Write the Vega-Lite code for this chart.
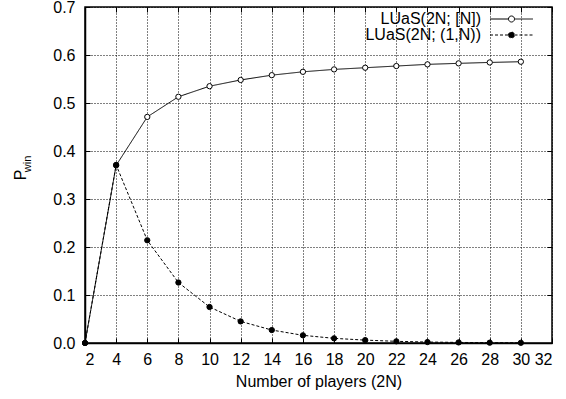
{
  "$schema": "https://vega.github.io/schema/vega-lite/v6.json",
  "width": 467,
  "height": 336,
  "autosize": {"type": "none"},
  "padding": {"left": 85, "top": 7, "right": 14, "bottom": 56},
  "background": "white",
  "config": {
    "font": "Liberation Sans",
    "view": {"stroke": "black", "strokeWidth": 1.5},
    "legend": {"padding": 0},
    "axis": {
      "labelFont": "Liberation Sans",
      "titleFont": "Liberation Sans",
      "labelFontSize": 16,
      "titleFontSize": 16,
      "titleFontWeight": "normal",
      "labelColor": "black",
      "titleColor": "black",
      "domainColor": "black",
      "tickColor": "black",
      "gridColor": "black",
      "gridDash": [1, 2],
      "gridOpacity": 1,
      "tickSize": -5
    }
  },
  "data": {
    "values": [
      {"n": 2, "p": 0.0, "s": "LUaS(2N; [N])"},
      {"n": 4, "p": 0.37, "s": "LUaS(2N; [N])"},
      {"n": 6, "p": 0.471, "s": "LUaS(2N; [N])"},
      {"n": 8, "p": 0.513, "s": "LUaS(2N; [N])"},
      {"n": 10, "p": 0.535, "s": "LUaS(2N; [N])"},
      {"n": 12, "p": 0.548, "s": "LUaS(2N; [N])"},
      {"n": 14, "p": 0.558, "s": "LUaS(2N; [N])"},
      {"n": 16, "p": 0.565, "s": "LUaS(2N; [N])"},
      {"n": 18, "p": 0.57, "s": "LUaS(2N; [N])"},
      {"n": 20, "p": 0.5735, "s": "LUaS(2N; [N])"},
      {"n": 22, "p": 0.577, "s": "LUaS(2N; [N])"},
      {"n": 24, "p": 0.5805, "s": "LUaS(2N; [N])"},
      {"n": 26, "p": 0.5826, "s": "LUaS(2N; [N])"},
      {"n": 28, "p": 0.5845, "s": "LUaS(2N; [N])"},
      {"n": 30, "p": 0.586, "s": "LUaS(2N; [N])"},
      {"n": 2, "p": 0.0, "s": "LUaS(2N; (1,N))"},
      {"n": 4, "p": 0.371, "s": "LUaS(2N; (1,N))"},
      {"n": 6, "p": 0.214, "s": "LUaS(2N; (1,N))"},
      {"n": 8, "p": 0.126, "s": "LUaS(2N; (1,N))"},
      {"n": 10, "p": 0.075, "s": "LUaS(2N; (1,N))"},
      {"n": 12, "p": 0.045, "s": "LUaS(2N; (1,N))"},
      {"n": 14, "p": 0.027, "s": "LUaS(2N; (1,N))"},
      {"n": 16, "p": 0.016, "s": "LUaS(2N; (1,N))"},
      {"n": 18, "p": 0.0097, "s": "LUaS(2N; (1,N))"},
      {"n": 20, "p": 0.006, "s": "LUaS(2N; (1,N))"},
      {"n": 22, "p": 0.0035, "s": "LUaS(2N; (1,N))"},
      {"n": 24, "p": 0.002, "s": "LUaS(2N; (1,N))"},
      {"n": 26, "p": 0.0012, "s": "LUaS(2N; (1,N))"},
      {"n": 28, "p": 0.0007, "s": "LUaS(2N; (1,N))"},
      {"n": 30, "p": 0.0004, "s": "LUaS(2N; (1,N))"}
    ]
  },
  "layer": [
    {
      "mark": {"type": "line", "color": "black", "strokeWidth": 1},
      "encoding": {
        "x": {"field": "n", "type": "quantitative",
              "scale": {"domain": [2, 32], "nice": false, "zero": false},
              "axis": {"values": [2,4,6,8,10,12,14,16,18,20,22,24,26,28,30,32], "title": "Number of players (2N)",
                       "labelBaseline": "alphabetic", "labelPadding": 26.5,
                       "titleBaseline": "alphabetic", "titleY": 43.5, "domainWidth": 1.5}},
        "y": {"field": "p", "type": "quantitative",
              "scale": {"domain": [0, 0.7], "nice": false},
              "axis": {"values": [0,0.1,0.2,0.3,0.4,0.5,0.6,0.7], "title": "P", "labelPadding": 15,
                       "titleBaseline": "alphabetic", "titleAngle": 270, "titleX": -60, "titleY": 167.5, "titleAlign": "center", "domainWidth": 1.5}},
        "strokeDash": {"field": "s", "type": "nominal",
                       "scale": {"domain": ["LUaS(2N; [N])", "LUaS(2N; (1,N))"], "range": [[1, 0], [3, 2]]}},
        "detail": {"field": "s"}
      }
    },
    {
      "mark": {"type": "point", "opacity": 0},
      "encoding": {
        "x": {"field": "n", "type": "quantitative", "axis": null},
        "y": {"field": "p", "type": "quantitative",
              "axis": {"orient": "left", "labels": false, "ticks": false, "domain": false, "grid": false,
                       "title": "win", "titleFontSize": 11, "titleBaseline": "alphabetic", "titleAngle": 270,
                       "titleX": -55, "titleY": 156.5, "titleAlign": "center"}}
      }
    },
    {
      "mark": {"type": "point", "shape": "circle", "stroke": "black", "strokeWidth": 1, "size": 28, "opacity": 1},
      "encoding": {
        "x": {"field": "n", "type": "quantitative", "axis": {"orient": "top", "labels": false, "title": null, "grid": false, "domain": false, "values": [2,4,6,8,10,12,14,16,18,20,22,24,26,28,30,32]}},
        "y": {"field": "p", "type": "quantitative", "axis": {"orient": "right", "labels": false, "title": null, "grid": false, "domain": false, "values": [0,0.1,0.2,0.3,0.4,0.5,0.6,0.7]}},
        "fill": {"field": "s", "type": "nominal",
                 "scale": {"domain": ["LUaS(2N; [N])", "LUaS(2N; (1,N))"], "range": ["white", "black"]},
                 "legend": {
                   "title": null,
                   "orient": "none",
                   "legendX": 418.5,
                   "legendY": 4,
                   "rowPadding": 0,
                   "symbolType": "M-3.07,0H-0.43M0.43,0H3.07M-0.43,0A0.43,0.43 0 1,1 0.43,0A0.43,0.43 0 1,1 -0.43,0Z",
                   "symbolSize": 196,
                   "symbolStrokeColor": "black",
                   "symbolStrokeWidth": 1,
                   "labelFontSize": 16,
                   "labelFont": "Liberation Sans",
                   "labelColor": "black",
                   "labelAlign": "right",
                   "labelOffset": -38.5
                 }}
      }
    }
  ],
  "resolve": {"axis": {"x": "independent", "y": "independent"}}
}
